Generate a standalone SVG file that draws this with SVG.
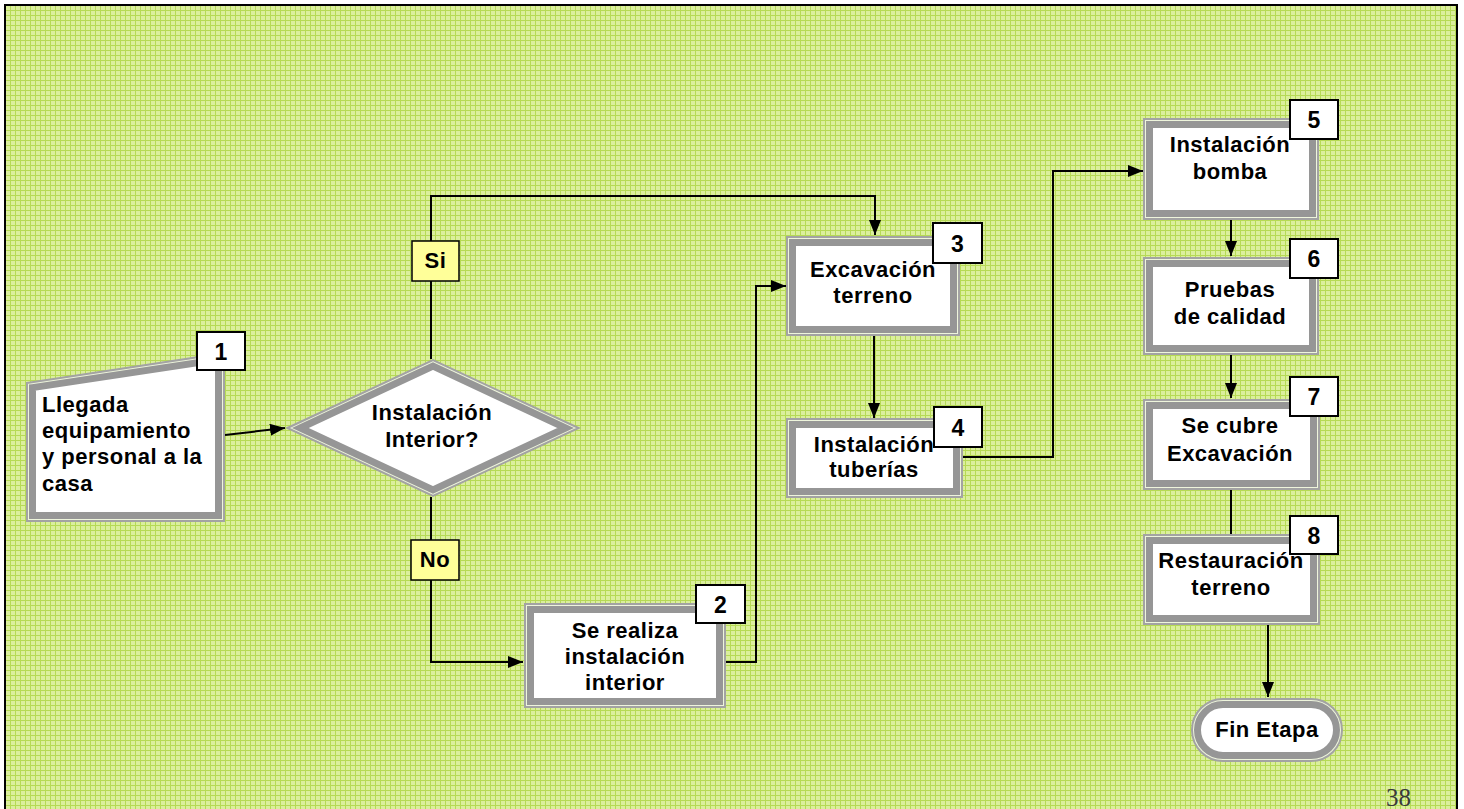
<svg xmlns="http://www.w3.org/2000/svg" width="1464" height="809" viewBox="0 0 1464 809">
<defs>
<pattern id="grid" width="5" height="5" patternUnits="userSpaceOnUse">
<rect width="5" height="5" fill="#dbef9d"/>
<rect width="5" height="1" fill="#b6da55"/>
<rect width="1" height="5" fill="#b6da55"/>
</pattern>
<marker id="ah" markerWidth="15" markerHeight="12" refX="15" refY="6" orient="auto" markerUnits="userSpaceOnUse">
<path d="M0,0 L15,6 L0,12 Z" fill="#000"/>
</marker>
<style>
.o{fill:#eef5dc;stroke:#a3a3a3;stroke-width:2}
.b{fill:#ffffff;stroke:#969696;stroke-width:7}
.t{font-family:"Liberation Sans",Arial,sans-serif;font-weight:bold;font-size:22px;letter-spacing:0.5px;fill:#000}
.c{text-anchor:middle}
.n{fill:#fff;stroke:#000;stroke-width:2}
.nt{font-family:"Liberation Sans",Arial,sans-serif;font-weight:bold;font-size:23px;fill:#000;text-anchor:middle}
.y{fill:#ffff99;stroke:#000;stroke-width:1.5}
.cn{fill:none;stroke:#000;stroke-width:2}
</style>
</defs>
<rect width="1464" height="809" fill="#fff"/>
<rect x="5" y="5" width="1452" height="812" fill="url(#grid)" stroke="#000" stroke-width="2"/>
<text x="1386" y="806" font-family="'Liberation Serif','Times New Roman',serif" font-size="25" fill="#3a3a3a">38</text>

<g id="connectors">
<path class="cn" d="M225,435 L285,428" marker-end="url(#ah)"/>
<path class="cn" d="M431,359 V196 H875 V235" marker-end="url(#ah)"/>
<path class="cn" d="M431,497 V662 H523" marker-end="url(#ah)"/>
<path class="cn" d="M726,662 H756 V286 H786" marker-end="url(#ah)"/>
<path class="cn" d="M874,336 V418" marker-end="url(#ah)"/>
<path class="cn" d="M963,457 H1053 V171 H1143" marker-end="url(#ah)"/>
<path class="cn" d="M1231,220 V256" marker-end="url(#ah)"/>
<path class="cn" d="M1231,355 V398" marker-end="url(#ah)"/>
<path class="cn" d="M1231,490 V534"/>
<path class="cn" d="M1268,625 V697" marker-end="url(#ah)"/>
</g>

<g id="label-si">
<rect class="y" x="412" y="241" width="47" height="40"/>
<text class="t c" x="435.5" y="268" letter-spacing="0">Si</text>
</g>
<g id="label-no">
<rect class="y" x="411" y="540" width="48" height="40"/>
<text class="t c" x="435" y="567" letter-spacing="0">No</text>
</g>

<g id="node1">
<polygon class="o" points="27,382.9 224,353.2 224,521 27,521"/>
<polygon class="b" points="32.5,387.6 218.5,359.6 218.5,515.5 32.5,515.5"/>
<text class="t" x="42" y="412">Llegada</text>
<text class="t" x="42" y="438">equipamiento</text>
<text class="t" x="42" y="464">y personal a la</text>
<text class="t" x="42" y="491">casa</text>
<rect class="n" x="197" y="332" width="48" height="38"/>
<text class="nt" x="221" y="360">1</text>
</g>

<g id="decision">
<polygon class="o" points="287.4,428 433,360.1 578.6,428 433,495.9"/>
<polygon class="b" points="300.3,428 433,366.2 565.7,428 433,489.8"/>
<text class="t c" x="432" y="420">Instalación</text>
<text class="t c" x="432" y="447">Interior?</text>
</g>

<g id="node2">
<rect class="o" x="525" y="604" width="200" height="103"/>
<rect class="b" x="530.5" y="609.5" width="189" height="92"/>
<text class="t c" x="625" y="638">Se realiza</text>
<text class="t c" x="625" y="664">instalación</text>
<text class="t c" x="625" y="690">interior</text>
<rect class="n" x="696" y="585" width="49" height="38"/>
<text class="nt" x="720.5" y="613">2</text>
</g>

<g id="node3">
<rect class="o" x="787" y="237" width="172" height="98"/>
<rect class="b" x="792.5" y="242.5" width="161" height="87"/>
<text class="t c" x="873" y="277">Excavación</text>
<text class="t c" x="873" y="303">terreno</text>
<rect class="n" x="933" y="223" width="49" height="40"/>
<text class="nt" x="957.5" y="252">3</text>
</g>

<g id="node4">
<rect class="o" x="787" y="419" width="175" height="78"/>
<rect class="b" x="792.5" y="424.5" width="164" height="67"/>
<text class="t c" x="874" y="452">Instalación</text>
<text class="t c" x="874" y="477">tuberías</text>
<rect class="n" x="934" y="407" width="48" height="40"/>
<text class="nt" x="958" y="436">4</text>
</g>

<g id="node5">
<rect class="o" x="1144" y="119" width="174" height="100"/>
<rect class="b" x="1149.5" y="124.5" width="163" height="89"/>
<text class="t c" x="1230" y="152">Instalación</text>
<text class="t c" x="1230" y="179">bomba</text>
<rect class="n" x="1290" y="100" width="48" height="39"/>
<text class="nt" x="1314" y="128">5</text>
</g>

<g id="node6">
<rect class="o" x="1144" y="258" width="174" height="96"/>
<rect class="b" x="1149.5" y="263.5" width="163" height="85"/>
<text class="t c" x="1230" y="297">Pruebas</text>
<text class="t c" x="1230" y="324">de calidad</text>
<rect class="n" x="1290" y="239" width="48" height="39"/>
<text class="nt" x="1314" y="267">6</text>
</g>

<g id="node7">
<rect class="o" x="1144" y="400" width="175" height="89"/>
<rect class="b" x="1149.5" y="405.5" width="164" height="78"/>
<text class="t c" x="1230" y="433">Se cubre</text>
<text class="t c" x="1230" y="461">Excavación</text>
<rect class="n" x="1290" y="377" width="48" height="39"/>
<text class="nt" x="1314" y="405">7</text>
</g>

<g id="node8">
<rect class="o" x="1144" y="535" width="175" height="89"/>
<rect class="b" x="1149.5" y="540.5" width="164" height="78"/>
<text class="t c" x="1231" y="568">Restauración</text>
<text class="t c" x="1231" y="595">terreno</text>
<rect class="n" x="1290" y="516" width="48" height="38"/>
<text class="nt" x="1314" y="544">8</text>
</g>

<g id="fin">
<rect class="o" x="1192" y="699" width="150" height="62" rx="31"/>
<rect class="b" x="1197.5" y="704.5" width="139" height="51" rx="25.5"/>
<text class="t c" x="1267" y="737">Fin Etapa</text>
</g>
</svg>
